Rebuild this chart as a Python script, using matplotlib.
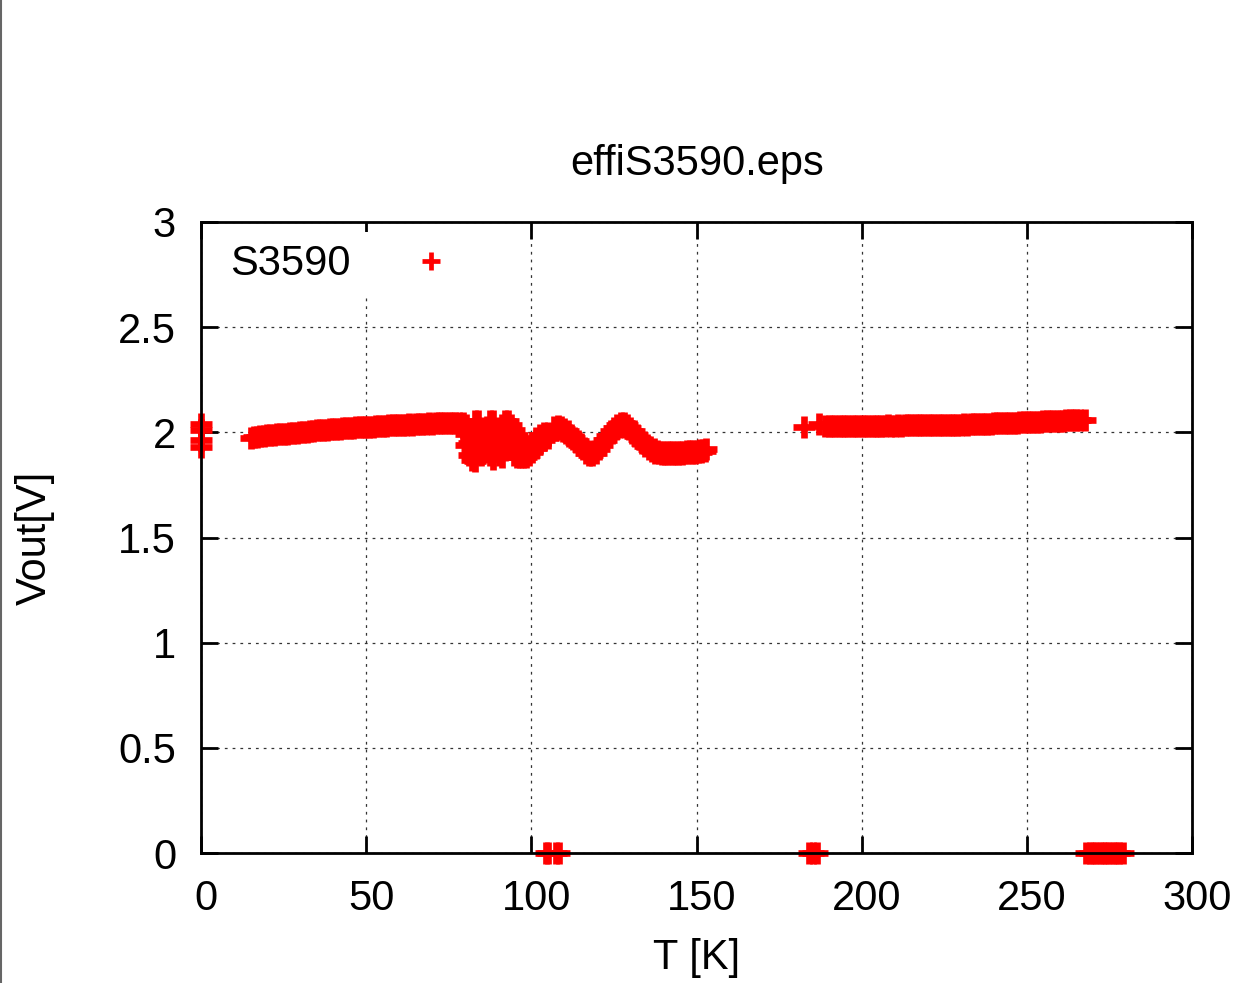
"""Vout against temperature for the S3590 sample (gnuplot-like layout)."""

import matplotlib
matplotlib.use("Agg")
import matplotlib.pyplot as plt
import matplotlib.transforms as mtransforms
from matplotlib.lines import Line2D

col_pt = "#ff0000"

# readings taken at T = 0 (before the ramp started)
t_start = [0, 0, 0, 0]
v_start = [2.040, 2.010, 1.965, 1.930]

# slow warm-up, 15 K .. 78 K
t_warm = [15, 16, 17, 18, 19, 20, 21, 22, 23, 24, 25, 26, 27, 28, 29, 30,
          31, 32, 33, 34, 35, 36, 37, 38, 39, 40, 41, 42, 43, 44, 45, 46,
          47, 48, 49, 50, 51, 52, 53, 54, 55, 56, 57, 58, 59, 60, 61, 62,
          63, 64, 65, 66, 67, 68, 69, 70, 71, 72, 73, 74, 75, 76, 77, 78]
v_warm = [1.975, 1.976, 1.980, 1.981, 1.984, 1.985, 1.987, 1.988, 1.990, 1.991,
          1.993, 1.994, 1.996, 1.997, 1.999, 2.000, 2.003, 2.003, 2.006, 2.006,
          2.009, 2.009, 2.012, 2.012, 2.015, 2.015, 2.017, 2.017, 2.019, 2.019,
          2.021, 2.021, 2.023, 2.023, 2.025, 2.025, 2.027, 2.027, 2.029, 2.029,
          2.031, 2.031, 2.033, 2.033, 2.035, 2.035, 2.037, 2.036, 2.038, 2.037,
          2.039, 2.039, 2.040, 2.040, 2.042, 2.041, 2.043, 2.042, 2.044, 2.043,
          2.045, 2.044, 2.046, 2.045]

# unstable stretch around 80-105 K: upper, middle and lower readings
t_noisy = [79.3, 80.2, 81.1, 82.0, 83.0, 83.9, 84.8, 85.7, 86.6, 87.5,
           88.4, 89.3, 90.2, 91.1, 92.0, 93.0, 93.9, 94.8, 95.7, 96.6,
           97.5, 98.4, 99.3, 100.2, 101.4, 102.6, 103.8, 105.1]
v_noisy_hi = [2.044, 2.035, 2.011, 1.964, 2.054, 2.054, 2.021, 2.011, 2.025, 2.054,
              2.054, 2.021, 2.011, 2.035, 2.054, 2.054, 2.035, 2.011, 1.987, 1.964,
              1.940, 1.926, 1.930, 1.949, 1.973, 1.987, 1.997, 1.997]
v_noisy_mid = [2.025, 1.990, 1.950, 1.915, 1.960, 1.985, 1.955, 1.960, 1.985, 1.975,
               1.965, 1.970, 1.950, 1.960, 1.985, 1.995, 1.980, 1.950, 1.935, 1.925,
               1.910, 1.905, 1.910, 1.928, 1.950, 1.968, 1.980, 1.985]
v_noisy_lo = [2.011, 1.940, 1.892, 1.870, 1.865, 1.916, 1.892, 1.907, 1.940, 1.892,
              1.875, 1.916, 1.892, 1.883, 1.916, 1.940, 1.926, 1.892, 1.883, 1.883,
              1.883, 1.883, 1.892, 1.907, 1.926, 1.949, 1.964, 1.973]

# oscillation and plateau, 107-153 K (readings on whole kelvins)
t_wave = [107, 108, 109, 110, 111, 112, 113, 114, 115, 116, 117, 118, 119,
          120, 121, 122, 123, 124, 125, 126, 127, 128, 129, 130, 131, 132,
          133, 134, 135, 136, 137, 138, 139, 140, 141, 142, 143, 144, 145,
          146, 147, 148, 149, 150, 151, 152, 153]
v_wave = [2.024, 2.029, 2.024, 2.014, 2.004, 1.989, 1.974, 1.959, 1.944, 1.924,
          1.909, 1.904, 1.909, 1.924, 1.944, 1.964, 1.984, 2.004, 2.019, 2.034,
          2.044, 2.044, 2.034, 2.019, 2.004, 1.989, 1.969, 1.954, 1.939, 1.929,
          1.919, 1.913, 1.908, 1.908, 1.906, 1.905, 1.905, 1.906, 1.907, 1.908,
          1.909, 1.910, 1.911, 1.913, 1.915, 1.918, 1.919]

# same stretch, readings in between (they sit a little lower)
t_wave_b = [107.5, 108.5, 109.5, 110.5, 111.5, 112.5, 113.5, 114.5, 115.5,
            116.5, 117.5, 118.5, 119.5, 120.5, 121.5, 122.5, 123.5, 124.5,
            125.5, 126.5, 127.5, 128.5, 129.5, 130.5, 131.5, 132.5, 133.5,
            134.5, 135.5, 136.5, 137.5, 138.5, 139.5, 140.5, 141.5, 142.5,
            143.5, 144.5, 145.5, 146.5, 147.5, 148.5, 149.5, 150.5, 151.5,
            152.5]
v_wave_b = [2.014, 2.014, 2.007, 1.997, 1.984, 1.969, 1.954, 1.939, 1.922,
            1.904, 1.894, 1.894, 1.904, 1.922, 1.942, 1.962, 1.982, 1.999,
            2.014, 2.027, 2.032, 2.027, 2.014, 1.999, 1.984, 1.967, 1.949,
            1.934, 1.922, 1.912, 1.904, 1.900, 1.899, 1.898, 1.897, 1.897,
            1.897, 1.898, 1.899, 1.900, 1.901, 1.902, 1.903, 1.905, 1.908,
            1.910]

# second run, 182-268 K
t_hot = [182.5, 187, 189, 190, 191, 192, 193, 194, 195, 196, 197, 198, 199,
         200, 201, 202, 203, 204, 205, 206, 207, 208, 209, 210, 211, 212,
         213, 214, 215, 216, 217, 218, 219, 220, 221, 222, 223, 224, 225,
         226, 227, 228, 229, 230, 231, 232, 233, 234, 235, 236, 237, 238,
         239, 240, 241, 242, 243, 244, 245, 246, 247, 248, 249, 250, 251,
         252, 253, 254, 255, 256, 257, 258, 259, 260, 261, 262, 263, 264,
         265, 266, 267.5]
v_hot = [2.025, 2.040, 2.030, 2.028, 2.031, 2.029, 2.030, 2.032, 2.029, 2.030,
         2.031, 2.029, 2.030, 2.031, 2.030, 2.031, 2.032, 2.030, 2.031, 2.032,
         2.031, 2.033, 2.032, 2.032, 2.033, 2.032, 2.034, 2.033, 2.033, 2.034,
         2.034, 2.035, 2.034, 2.034, 2.035, 2.035, 2.036, 2.035, 2.036, 2.036,
         2.037, 2.036, 2.037, 2.037, 2.038, 2.037, 2.038, 2.038, 2.039, 2.039,
         2.040, 2.040, 2.041, 2.042, 2.042, 2.043, 2.044, 2.044, 2.045, 2.046,
         2.046, 2.047, 2.048, 2.049, 2.049, 2.050, 2.051, 2.051, 2.052, 2.053,
         2.053, 2.054, 2.055, 2.056, 2.056, 2.057, 2.058, 2.058, 2.059, 2.060,
         2.058]

# dropouts where the output read zero
t_zero = [104.3, 105.0, 107.6, 108.3, 184.2, 185.4, 186.6,
          268, 269, 270, 271, 272, 273, 274, 275, 276, 277, 278, 279]
v_zero = [0.0] * len(t_zero)

x_ticks = [0, 50, 100, 150, 200, 250, 300]
y_ticks = [0, 0.5, 1, 1.5, 2, 2.5, 3]
y_labels = ["0", "0.5", "1", "1.5", "2", "2.5", "3"]

plt.rcParams["font.family"] = ["Liberation Sans", "DejaVu Sans"]
plt.rcParams["lines.scale_dashes"] = False

fs = 30
fig = plt.figure(figsize=(12.4, 9.83), dpi=100)
ax = fig.add_axes([0.1621, 0.1322, 0.7992, 0.642])

ts = (t_start + t_warm + t_noisy * 3 + t_wave + t_wave_b + t_hot + t_zero)
vs = (v_start + v_warm + v_noisy_hi + v_noisy_mid + v_noisy_lo + v_wave
      + v_wave_b + v_hot + v_zero)
ax.plot(ts, vs, linestyle="none", marker="+", color=col_pt,
        markersize=16, markeredgewidth=4.8, clip_on=False, zorder=3)

ax.set_xlim(0, 300)
ax.set_ylim(0, 3)
ax.set_xticks(x_ticks)
ax.set_yticks(y_ticks)
ax.set_yticklabels(y_labels)
ax.grid(True, color="#333333", linewidth=0.9, linestyle=(0, (2.0, 3.6)))
ax.set_axisbelow(True)

for s in ax.spines.values():
    s.set_linewidth(2.0)
    s.set_zorder(4)
ax.tick_params(which="major", direction="in", length=12.5, width=2.0,
               top=True, right=True, labelsize=fs, color="black")
ax.tick_params(axis="x", pad=19)
ax.tick_params(axis="y", pad=18)

# gnuplot puts the x labels a few pixels to the right of their ticks
shift = mtransforms.ScaledTranslation(5 / 100, 0, fig.dpi_scale_trans)
for lab in ax.get_xticklabels():
    lab.set_transform(lab.get_transform() + shift)

key = Line2D([], [], linestyle="none", marker="+", color=col_pt,
             markersize=13, markeredgewidth=3.4, label="S3590")
leg = ax.legend(handles=[key], loc="center left",
                bbox_to_anchor=(0.017, 0.933),
                markerfirst=False, frameon=True, fancybox=False,
                framealpha=1, edgecolor="none", facecolor="white",
                fontsize=fs, handlelength=2.0, handletextpad=0.93,
                borderpad=0.3, borderaxespad=0)
leg.set_zorder(5)

fig.text(0.562, 0.822, "effiS3590.eps", ha="center", va="baseline", fontsize=fs)
fig.text(0.562, 0.0142, "T [K]", ha="center", va="baseline", fontsize=fs)
fig.text(0.028, 0.4527, "Vout[V]", ha="center", va="center", rotation=90,
         fontsize=fs)

# thin gray rule along the left edge of the page
fig.add_artist(Line2D([0.0008, 0.0008], [0, 1], transform=fig.transFigure,
                      color="#666666", linewidth=1.5))

fig.savefig("out.png", dpi=100, facecolor="white")
